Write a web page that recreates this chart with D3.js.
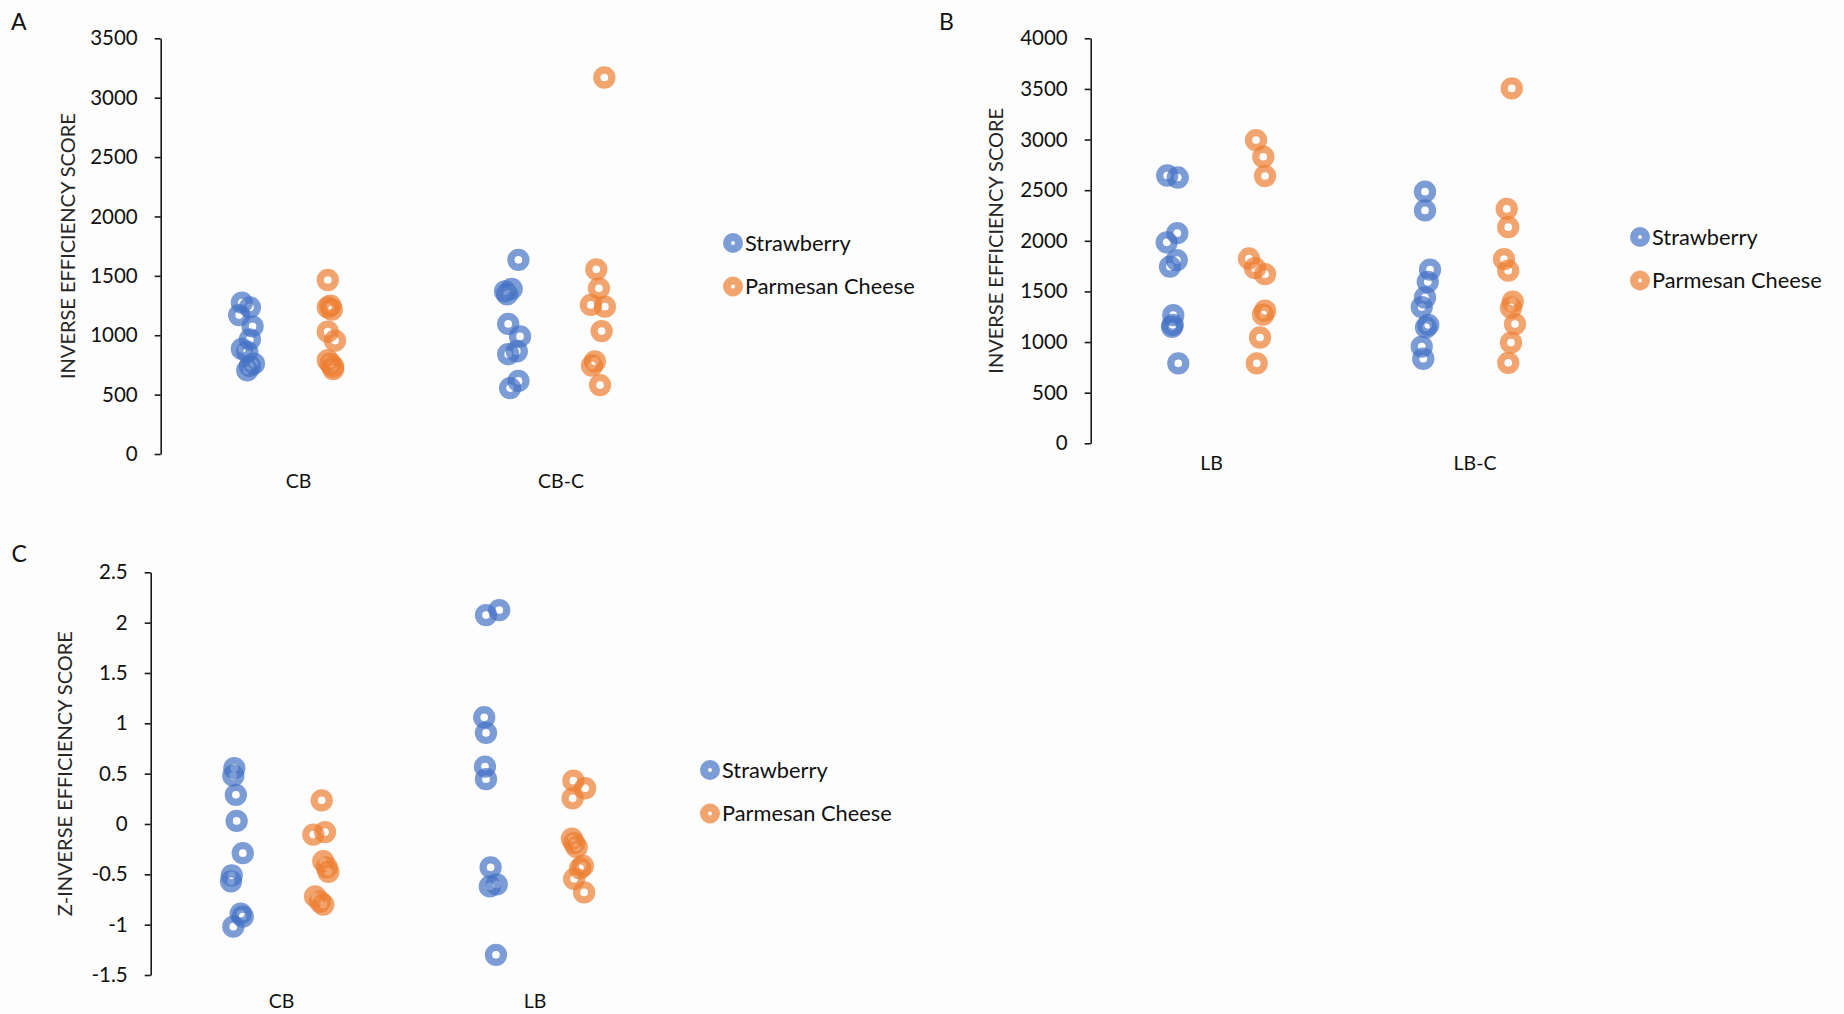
<!DOCTYPE html>
<html>
<head>
<meta charset="utf-8">
<script src="https://cdn.jsdelivr.net/npm/d3@7"></script>
<style>
  body { margin: 0; background: #fdfdfd; }
  svg { display: block; font-family: 'Lato', sans-serif; }
</style>
</head>
<body>
<script>
// series
const seriesNames = ['Strawberry', 'Parmesan Cheese'];
const seriesColors = ['#4472C4', '#ED7D31'];

// panel A - inverse efficiency score, CB / CB-C
const catsA = ['CB', 'CB-C'];
const strawA = [
  [1275, 1235, 1170, 1075, 965, 885, 860, 760, 740, 705],
  [1635, 1390, 1370, 1345, 1095, 990, 865, 840, 615, 555]
];
const parmA = [
  [1465, 1250, 1235, 1215, 1030, 955, 790, 760, 735, 715],
  [3170, 1555, 1395, 1255, 1240, 1035, 780, 745, 580]
];
// horizontal scatter of each point (category units)
const strawA_jit = [
  [-0.01, 0.02, -0.02, 0.03, 0.02, -0.01, 0.01, 0.035, 0.02, 0.01],
  [0.02, -0.005, -0.03, -0.022, -0.018, 0.026, 0.014, -0.018, 0.02, -0.011]
];
const parmA_jit = [
  [-0.01, 0, -0.01, 0.005, -0.01, 0.017, -0.01, 0, 0.01, 0.01],
  [0.02, -0.01, 0, -0.03, 0.022, 0.01, -0.015, -0.026, 0.004]
];
const ticksA = [0, 500, 1000, 1500, 2000, 2500, 3000, 3500];

// panel B - inverse efficiency score, LB / LB-C
const catsB = ['LB', 'LB-C'];
const strawB = [
  [2645, 2625, 2075, 1985, 1810, 1745, 1265, 1170, 1150, 790],
  [2485, 2300, 1715, 1595, 1440, 1345, 1170, 1145, 955, 835]
];
const parmB = [
  [2995, 2830, 2640, 1825, 1730, 1670, 1310, 1270, 1045, 790],
  [3505, 2315, 2135, 1820, 1705, 1400, 1340, 1178, 995, 795]
];
const strawB_jit = [
  [-0.023, 0.019, 0.017, -0.025, 0.015, -0.012, 0.001, -0.001, -0.004, 0.021],
  [0.002, 0.002, 0.022, 0.013, 0.002, -0.011, 0.015, 0.006, -0.011, -0.005]
];
const parmB_jit = [
  [0, 0.029, 0.036, -0.028, -0.004, 0.036, 0.036, 0.028, 0.016, 0.003],
  [0.017, -0.003, 0.003, -0.014, 0.003, 0.021, 0.014, 0.03, 0.014, 0.003]
];
const ticksB = [0, 500, 1000, 1500, 2000, 2500, 3000, 3500, 4000];

// panel C - z inverse efficiency score, CB / LB
const catsC = ['CB', 'LB'];
const strawC = [
  [0.555, 0.48, 0.29, 0.03, -0.29, -0.51, -0.57, -0.89, -0.92, -1.02],
  [2.125, 2.075, 1.06, 0.905, 0.57, 0.445, -0.43, -0.6, -0.62, -1.3]
];
const parmC = [
  [0.235, -0.08, -0.105, -0.37, -0.43, -0.475, -0.72, -0.77, -0.8],
  [0.43, 0.355, 0.255, -0.145, -0.19, -0.23, -0.415, -0.44, -0.545, -0.68]
];
const strawC_jit = [
  [0.005, 0.001, 0.011, 0.014, 0.038, -0.005, -0.008, 0.03, 0.038, 0.001],
  [0.042, -0.01, -0.017, -0.01, -0.014, -0.01, 0.008, 0.032, 0.005, 0.029]
];
const parmC_jit = [
  [0.007, 0.02, -0.026, 0.013, 0.027, 0.033, -0.019, 0, 0.013],
  [-0.008, 0.038, -0.011, -0.014, -0.005, 0.005, 0.029, 0.018, -0.005, 0.034]
];
const ticksC = [-1.5, -1, -0.5, 0, 0.5, 1, 1.5, 2, 2.5];

// layout of the three panels (pixels)
const panels = [
  { letter: 'A', letterPos: [11, 30], title: 'INVERSE EFFICIENCY SCORE', titleX: 68,
    axisX: 160.7, yRange: [454, 38.3], ticks: ticksA, cats: catsA, catX: [287.5, 556],
    labelShift: [11, 5], labelY: 481, seriesOffset: 0.16, legend: [733, 243],
    values: [strawA, parmA], jitter: [strawA_jit, parmA_jit] },
  { letter: 'B', letterPos: [939, 29.5], title: 'INVERSE EFFICIENCY SCORE', titleX: 996,
    axisX: 1090.7, yRange: [443.3, 38.3], ticks: ticksB, cats: catsB, catX: [1214.5, 1466],
    labelShift: [-3, 9], labelY: 463, seriesOffset: 0.165, legend: [1640, 237],
    values: [strawB, parmB], jitter: [strawB_jit, parmB_jit] },
  { letter: 'C', letterPos: [11.5, 562], title: 'Z-INVERSE EFFICIENCY SCORE', titleX: 65,
    axisX: 150.7, yRange: [975, 572.3], ticks: ticksC, cats: catsC, catX: [276.5, 532],
    labelShift: [5, 3], labelY: 1001, seriesOffset: 0.17, legend: [710, 770],
    values: [strawC, parmC], jitter: [strawC_jit, parmC_jit] }
];

const svg = d3.select('body').append('svg')
  .attr('width', 1844)
  .attr('height', 1014);

panels.forEach((p) => {
  const g = svg.append('g');

  let y = d3.scaleLinear()
    .domain(d3.extent(p.ticks))
    .range(p.yRange);

  // categories sit at 0 and 1
  let x = d3.scaleLinear().domain([0, 1]).range(p.catX);

  // panel letter
  g.append('text')
    .attr('x', p.letterPos[0])
    .attr('y', p.letterPos[1])
    .style('font-size', '23px')
    .style('fill', '#111')
    .text(p.letter);

  // y axis
  let axis = g.append('g')
    .attr('transform', `translate(${p.axisX},0)`)
    .call(d3.axisLeft(y)
      .tickValues(p.ticks)
      .tickFormat((d) => String(d))
      .tickSize(6)
      .tickSizeOuter(0)
      .tickPadding(17));
  axis.select('.domain').attr('stroke', '#1a1a1a').attr('stroke-width', 1.6);
  axis.selectAll('.tick line').attr('stroke', '#1a1a1a').attr('stroke-width', 1.6);
  axis.selectAll('.tick text')
    .attr('fill', '#111')
    .style('font-family', 'Lato, sans-serif')
    .style('font-size', '20.5px');

  // axis title
  let midY = (p.yRange[0] + p.yRange[1]) / 2;
  g.append('text')
    .attr('transform', `translate(${p.titleX},${midY}) rotate(-90)`)
    .attr('text-anchor', 'middle')
    .attr('dy', '0.36em')
    .style('font-size', '20px')
    .style('fill', '#262626')
    .text(p.title);

  // category labels
  g.selectAll('.catLabel')
    .data(p.cats)
    .enter().append('text')
    .attr('class', 'catLabel')
    .attr('x', (d, i) => x(i) + p.labelShift[i])
    .attr('y', p.labelY)
    .attr('dy', '0.36em')
    .attr('text-anchor', 'middle')
    .style('font-size', '19.5px')
    .style('fill', '#111')
    .text((d) => d);

  // points, one series after the other
  p.values.forEach((series, s) => {
    let offset = s === 0 ? -p.seriesOffset : p.seriesOffset;
    let pts = [];
    series.forEach((vals, c) => {
      vals.forEach((v, i) => {
        pts.push({ x: c + offset + p.jitter[s][c][i], v: v });
      });
    });
    g.selectAll('.pt' + s)
      .data(pts)
      .enter().append('circle')
      .attr('class', 'pt' + s)
      .attr('cx', (d) => x(d.x))
      .attr('cy', (d) => y(d.v))
      .attr('r', 7.5)
      .attr('fill', 'none')
      .attr('stroke', seriesColors[s])
      .attr('stroke-width', 7.3)
      .attr('stroke-opacity', 0.7);
  });

  // legend
  let leg = g.selectAll('.leg')
    .data(seriesNames)
    .enter().append('g')
    .attr('class', 'leg')
    .attr('transform', (d, i) => `translate(${p.legend[0]},${p.legend[1] + i * 43.5})`);
  leg.append('circle')
    .attr('r', 6)
    .attr('fill', 'none')
    .attr('stroke', (d, i) => seriesColors[i])
    .attr('stroke-width', 8)
    .attr('stroke-opacity', 0.7);
  leg.append('text')
    .attr('x', 12)
    .attr('dy', '0.36em')
    .style('font-size', '21.8px')
    .style('fill', '#111')
    .text((d) => d);
});
</script>
</body>
</html>
